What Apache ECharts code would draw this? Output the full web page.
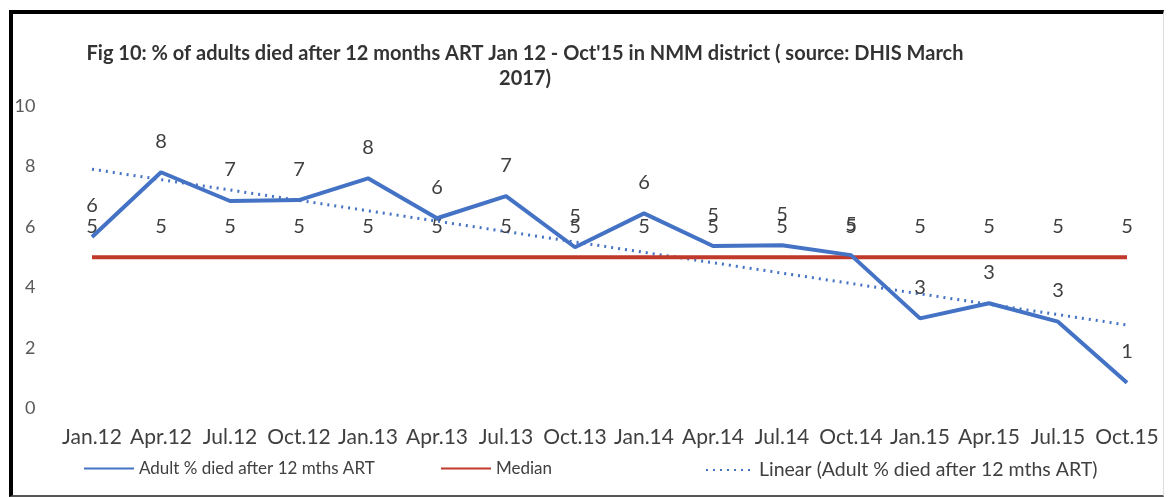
<!DOCTYPE html>
<html>
<head>
<meta charset="utf-8">
<script src="https://cdn.jsdelivr.net/npm/echarts@6/dist/echarts.min.js"></script>
<style>
  html, body { margin: 0; padding: 0; background: #fff; }
  #frame {
    position: absolute; left: 9px; top: 10px; width: 1150px; height: 481px;
    border-left: 4px solid #000; border-top: 4px solid #000;
    border-bottom: 2px solid #555; border-right: 1px solid #ddd;
  }
  #main { position: absolute; left: 0; top: 0; width: 1168px; height: 497px; }
</style>
</head>
<body>
<div id="frame"></div>
<div id="main"></div>
<script>
  var categories = ['Jan.12', 'Apr.12', 'Jul.12', 'Oct.12', 'Jan.13', 'Apr.13', 'Jul.13', 'Oct.13',
    'Jan.14', 'Apr.14', 'Jul.14', 'Oct.14', 'Jan.15', 'Apr.15', 'Jul.15', 'Oct.15'];
  var adultDied = [5.67, 7.81, 6.86, 6.89, 7.61, 6.29, 7.02, 5.33, 6.45, 5.37, 5.40, 5.07, 2.98, 3.48, 2.87, 0.85];
  var median = [5, 5, 5, 5, 5, 5, 5, 5, 5, 5, 5, 5, 5, 5, 5, 5];
  // trend line only known at its two ends, the chart joins them
  var trendEnds = [7.91, 2.76];
  var yTicks = [0, 2, 4, 6, 8, 10];

  var trendData = categories.map(function (c, i) {
    if (i === 0) return trendEnds[0];
    if (i === categories.length - 1) return trendEnds[1];
    return null;
  });

  var font = 'Lato, "Liberation Sans", sans-serif';
  var lblStyle = { show: true, position: 'top', distance: 20, fontSize: 20, color: '#404040', fontFamily: font,
    formatter: function (p) { return Math.round(p.value); } };

  var chart = echarts.init(document.getElementById('main'));
  var legendText = { fontSize: 17, color: '#404040', fontFamily: font };
  chart.setOption({
    animation: false,
    title: {
      text: 'Fig 10: % of adults died after 12 months ART Jan 12 - Oct\'15 in NMM district ( source: DHIS March\n2017)',
      left: 520, top: 36, textAlign: 'center',
      textStyle: { fontSize: 20, fontWeight: 'bold', color: '#333', fontFamily: font, lineHeight: 25, align: 'center' }
    },
    legend: [
      { data: ['Adult % died after 12 mths ART'], left: 78, top: 455, itemWidth: 50, itemHeight: 10, itemGap: 6, textStyle: legendText },
      { data: ['Median'], left: 435, top: 455, itemWidth: 50, itemHeight: 10, textStyle: legendText },
      { data: ['Linear (Adult % died after 12 mths ART)'], left: 700, top: 455, itemWidth: 48, itemHeight: 10,
        itemStyle: { opacity: 0 }, textStyle: { fontSize: 19.5, color: '#404040', fontFamily: font } }
    ],
    grid: { left: 57.5, right: 6.5, top: 106, bottom: 88.5 },
    xAxis: {
      type: 'category', data: categories, boundaryGap: true,
      axisLine: { show: false }, axisTick: { show: false },
      axisLabel: { margin: 18, fontSize: 21, color: '#404040', fontFamily: font, interval: 0 }
    },
    yAxis: {
      type: 'value', min: yTicks[0], max: yTicks[yTicks.length - 1], interval: 2,
      splitLine: { show: false }, axisLine: { show: false }, axisTick: { show: false },
      axisLabel: { margin: 22, fontSize: 18, color: '#595959', fontFamily: font }
    },
    series: [
      {
        name: 'Adult % died after 12 mths ART', type: 'line', data: adultDied,
        symbol: 'circle', symbolSize: 2, itemStyle: { color: 'rgba(0,0,0,0)' },
        lineStyle: { color: '#4472C4', width: 4 }, label: lblStyle, z: 3
      },
      {
        name: 'Median', type: 'line', data: median,
        symbol: 'circle', symbolSize: 2, itemStyle: { color: 'rgba(0,0,0,0)' },
        lineStyle: { color: '#C0392B', width: 4 }, label: lblStyle, z: 2
      },
      {
        name: 'Linear (Adult % died after 12 mths ART)', type: 'line', data: trendData, connectNulls: true,
        symbol: 'none', itemStyle: { color: '#4472C4' },
        lineStyle: { color: '#4472C4', width: 3, type: [2, 5] }, z: 1
      }
    ]
  });
</script>
</body>
</html>
